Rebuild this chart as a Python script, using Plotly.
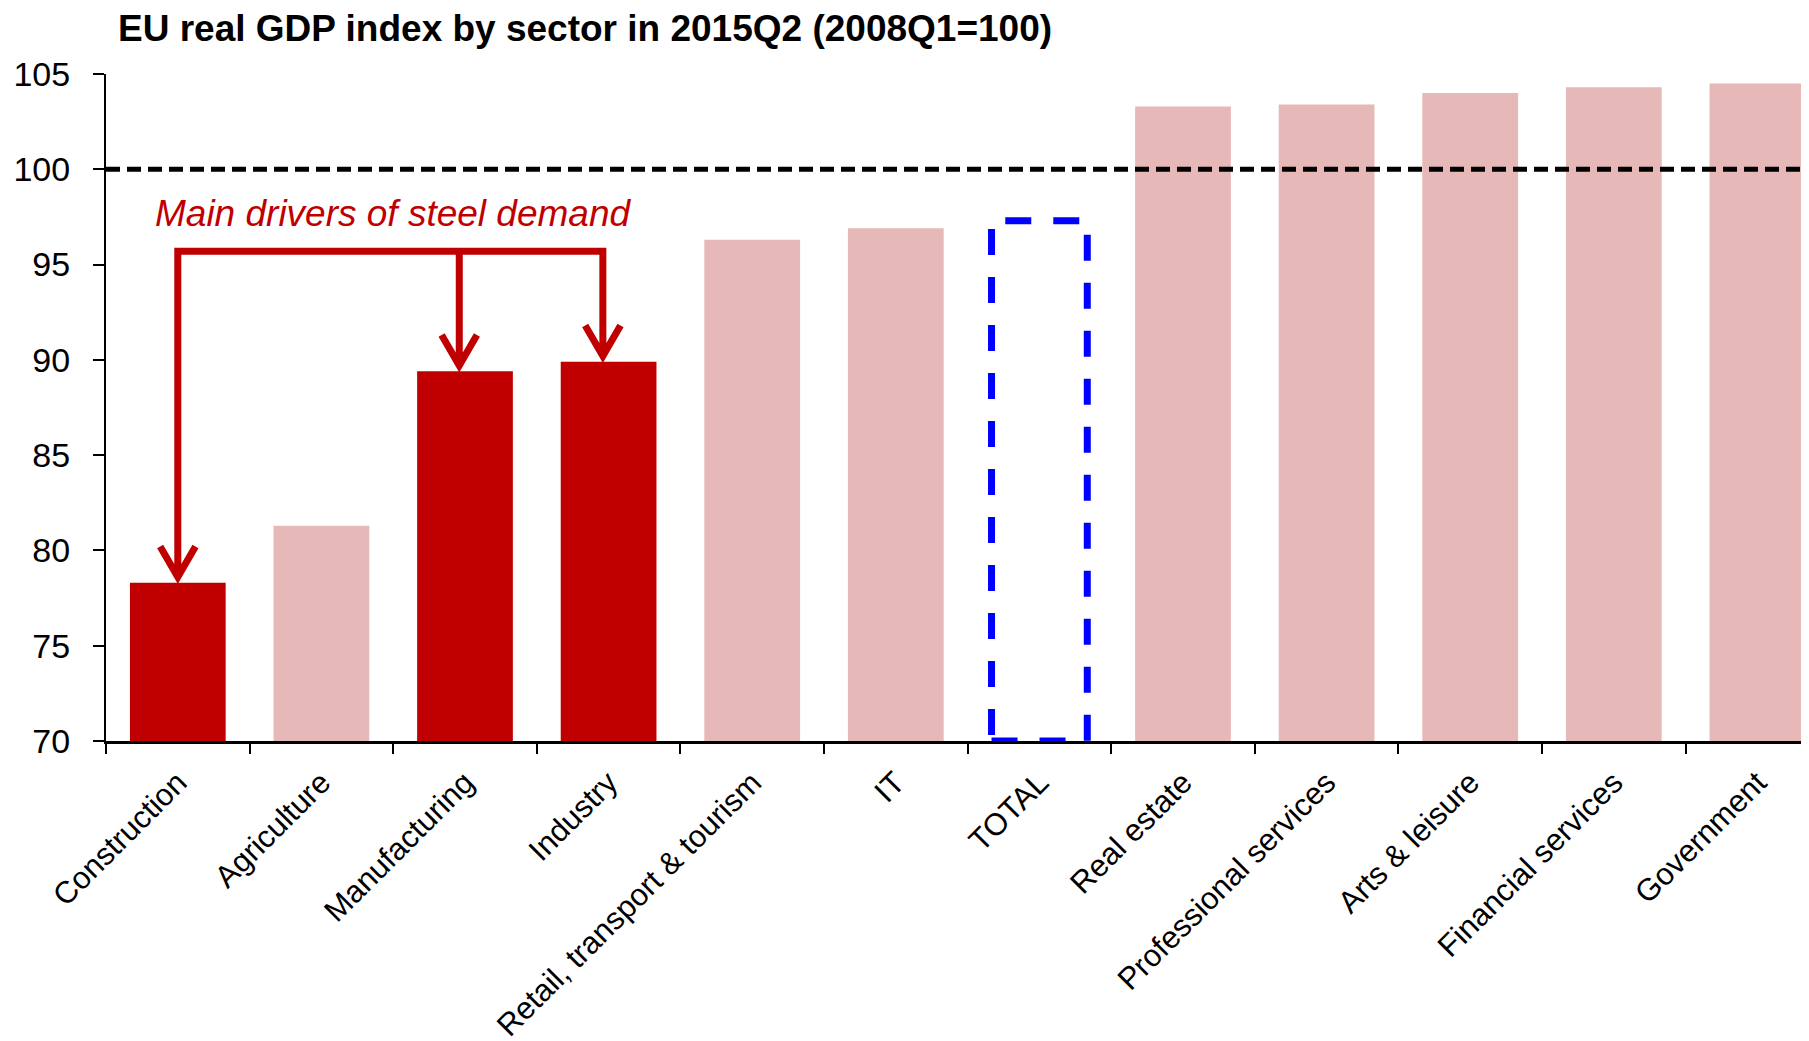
import plotly.graph_objects as go

# ---- data ----
categories = ["Construction", "Agriculture", "Manufacturing", "Industry",
              "Retail, transport & tourism", "IT", "TOTAL", "Real estate",
              "Professional services", "Arts & leisure", "Financial services",
              "Government"]
values = [78.3, 81.3, 89.4, 89.9, 96.3, 96.9, 97.3, 103.3, 103.4, 104.0, 104.3, 104.5]
steel_drivers = ["Construction", "Manufacturing", "Industry"]
total_label = "TOTAL"
reference_level = 100
y_ticks = [70, 75, 80, 85, 90, 95, 100, 105]
title_text = "EU real GDP index by sector in 2015Q2 (2008Q1=100)"
annotation_text = "Main drivers of steel demand"

# ---- styles ----
DARK = "#C00000"
LIGHT = "#E6B8B7"
BLUE = "#0000FF"
FONT = "Liberation Sans, Arial, sans-serif"
BAR_HALF = 1 / 3
OFF = 8            # default page margin of the html body
W, H = 1809 - OFF, 1041 - OFF

colors = []
for c in categories:
    if c == total_label:
        colors.append("rgba(0,0,0,0)")
    elif c in steel_drivers:
        colors.append(DARK)
    else:
        colors.append(LIGHT)

fig = go.Figure()
fig.add_trace(go.Bar(x=categories, y=values, marker=dict(color=colors, line=dict(width=0)),
                     width=2 * BAR_HALF, hoverinfo="x+y"))

shapes = []
# reference line at 100
shapes.append(dict(type="line", xref="paper", x0=0, x1=1, yref="y",
                   y0=reference_level, y1=reference_level,
                   line=dict(color="black", width=5, dash="14px,7px"), layer="above"))

# dashed box for TOTAL
ti = categories.index(total_label)
shapes.append(dict(type="rect", xref="x", yref="y",
                   x0=ti - BAR_HALF, x1=ti + BAR_HALF, y0=y_ticks[0], y1=values[ti],
                   line=dict(color=BLUE, width=7, dash="26px,22px"),
                   fillcolor="rgba(0,0,0,0)", layer="above"))

# bracket with arrows to the steel drivers
bracket_y = 95.7
tip_gap = 0.3
dx, dy = 0.123, 1.6
idx = [categories.index(c) for c in steel_drivers]
xs = [i - (0.0 if k == 0 else 0.04) for k, i in enumerate(idx)]
tips = [values[i] + tip_gap for i in idx]
path = f"M {xs[0]},{tips[0]} L {xs[0]},{bracket_y} L {xs[-1]},{bracket_y} L {xs[-1]},{tips[-1]}"
for x, t in zip(xs[1:-1], tips[1:-1]):
    path += f" M {x},{bracket_y} L {x},{t}"
for x, t in zip(xs, tips):
    path += f" M {x - dx},{t + dy} L {x},{t} L {x + dx},{t + dy}"
shapes.append(dict(type="path", xref="x", yref="y", path=path,
                   line=dict(color=DARK, width=7), layer="above"))

fig.add_annotation(x=-0.17, y=97.7, xref="x", yref="y", text=annotation_text,
                   showarrow=False, xanchor="left", yanchor="middle",
                   font=dict(family=FONT, size=37, color=DARK, style="italic"))

fig.update_layout(
    width=W, height=H,
    margin=dict(l=106 - OFF, r=0, t=74 - OFF, b=H - (741 - OFF), autoexpand=False),
    paper_bgcolor="white", plot_bgcolor="white",
    shapes=shapes,
    showlegend=False,
    bargap=1 - 2 * BAR_HALF,
    title=dict(text=title_text, x=(118 - OFF) / W, xanchor="left", xref="container",
               y=1 - (28 - OFF) / H, yanchor="middle", yref="container",
               font=dict(family=FONT, size=37, color="black", weight="bold")),
    xaxis=dict(type="category", range=[-0.5, (1809 - 106) / 143.6 - 0.5],
               showline=True, linecolor="black", linewidth=3,
               ticks="outside", tickson="boundaries", ticklen=10, tickwidth=2, tickcolor="black",
               tickangle=-45, ticklabelstandoff=8,
               tickfont=dict(family=FONT, size=31, color="black"),
               showgrid=False, zeroline=False),
    yaxis=dict(range=[y_ticks[0], y_ticks[-1]], tickvals=y_ticks,
               showline=True, linecolor="black", linewidth=2,
               ticks="outside", ticklen=11, tickwidth=2, tickcolor="black",
               ticklabelstandoff=16,
               tickfont=dict(family=FONT, size=34, color="black"),
               showgrid=False, zeroline=False),
)

fig.write_html("out.html")
